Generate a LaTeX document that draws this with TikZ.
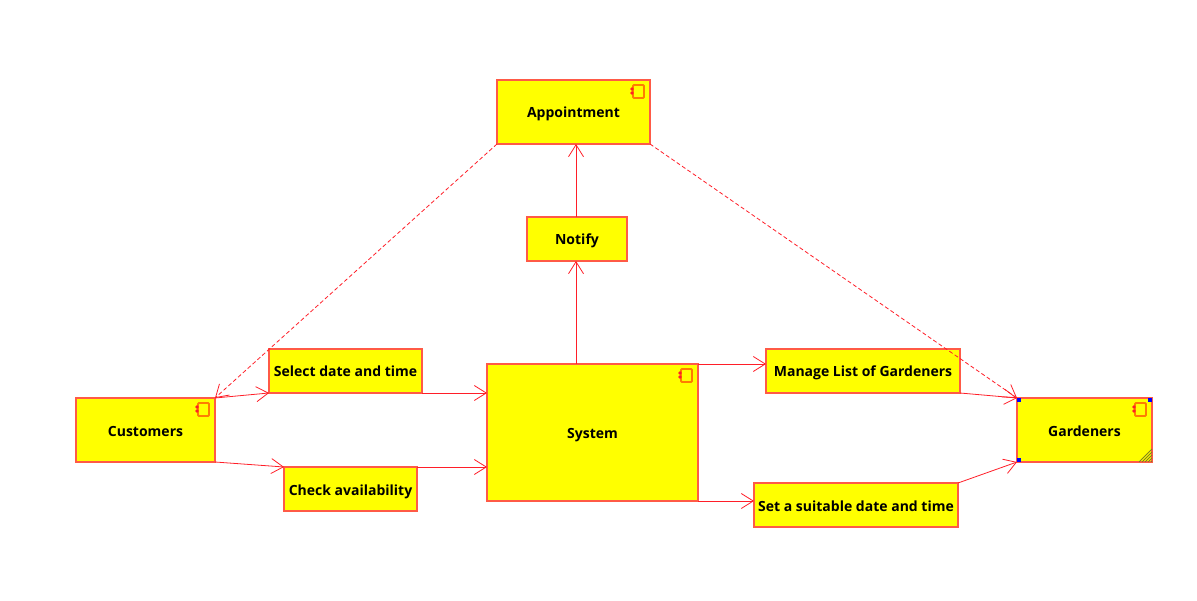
\documentclass[tikz,border=0pt]{standalone}
\usepackage{fontspec}
\setmainfont{Open Sans}
\usetikzlibrary{arrows.meta}
\definecolor{edgered}{RGB}{255,30,40}
\definecolor{boxline}{RGB}{255,90,70}
\definecolor{boxfill}{RGB}{255,255,0}
\definecolor{iconline}{RGB}{255,125,0}
\definecolor{hatchline}{RGB}{130,130,30}
\tikzset{
  box/.style={draw=boxline, fill=boxfill, line width=1.3pt, outer sep=0pt, inner sep=0pt, text height=14pt, text depth=2pt, font=\bfseries\fontsize{14}{16}\selectfont},
  link/.style={draw=edgered, line width=.8pt, -{Straight Barb[length=12pt,width=15pt]}},
  dashlink/.style={link, dash pattern=on 4pt off 2.5pt},
  handle/.style={fill=blue, draw=none, minimum size=4pt, inner sep=0pt, outer sep=0pt}
}
% component glyph, hung from the north east corner of a box
\newcommand{\compicon}[1]{
  \draw[iconline, line width=1.8pt, rounded corners=1pt] ([xshift=-17pt,yshift=-5pt]#1.north east) rectangle ([xshift=-6pt,yshift=-18pt]#1.north east);
  \fill[edgered] ([xshift=-18pt,yshift=-9pt]#1.north east) circle (1.8pt);
  \fill[edgered] ([xshift=-18pt,yshift=-13pt]#1.north east) circle (1.8pt);}

\begin{document}
\begin{tikzpicture}[x=1pt, y=-1pt]
  \useasboundingbox (0,0) rectangle (1197,601);
  % boxes
  \foreach \n/\x/\y/\w/\h/\l in {appointment/573.5/112/153/64/{Appointment}, notify/577/239/100/44/{Notify}, system/592.5/432.5/211/137/{System}, customers/145.5/430/139/64/{Customers}, gardeners/1084.5/430/135/64/{Gardeners}, selectdate/345.5/371/153/44/{Select date and time}, checkavail/350.5/489/133/44/{Check availability}, managelist/863/371/194/44/{Manage List of Gardeners}, setdate/856/505/204/44/{Set a suitable date and time}}{
    \node[box, minimum width=\w, minimum height=\h] (\n) at (\x,\y) {\l};}
  \foreach \n in {appointment, system, customers, gardeners}{\compicon{\n}}
  % hatch in the corner of the selected box
  \foreach \d in {1,4,7,10,13}{
    \draw[hatchline, line width=1pt] ([xshift=-\d pt]gardeners.south east) -- ([yshift=\d pt]gardeners.south east);}
  % selection handles
  \node[handle, anchor=north west] (hnw) at (gardeners.north west) {};
  \node[handle, anchor=north east] (hne) at (gardeners.north east) {};
  \node[handle, anchor=south west] (hsw) at (gardeners.south west) {};
  % connectors
  \draw[link] ([xshift=-1pt]notify.north) -- ([xshift=-1pt]notify.north |- appointment.south);
  \draw[link] (system.north -| notify.south) ++(-1,0) -- ([xshift=-1pt]notify.south);
  \draw[dashlink] (appointment.south west) -- (customers.north east);
  \draw[dashlink] (appointment.south east) -- (gardeners.north west);
  \draw[link] (customers.north east) -- (selectdate.south west);
  \draw[link] (customers.south east) -- (checkavail.north west);
  \draw[link] (selectdate.south east) -- (selectdate.south east -| system.west);
  \draw[link] (checkavail.north east) -- (checkavail.north east -| system.west);
  \draw[link] (system.north east) -- (system.north east -| managelist.west);
  \draw[link] (system.south east) -- (system.south east -| setdate.west);
  \draw[link] (managelist.south east) -- (gardeners.north west);
  \draw[link] (setdate.north east) -- (gardeners.south west);
\end{tikzpicture}
\end{document}
